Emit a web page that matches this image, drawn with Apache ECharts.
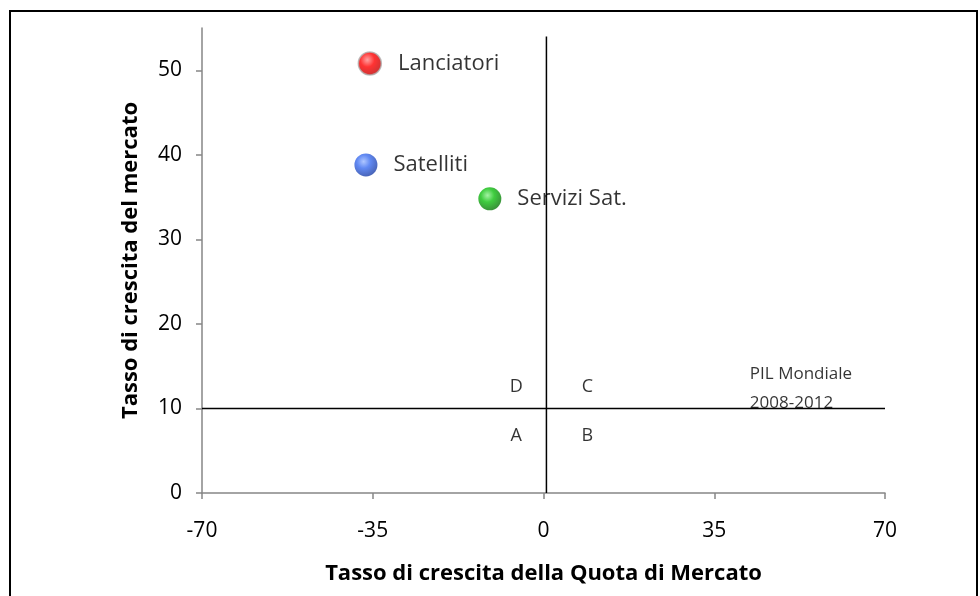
<!DOCTYPE html>
<html>
<head>
<meta charset="utf-8">
<script src="https://cdn.jsdelivr.net/npm/echarts@6/dist/echarts.min.js"></script>
<style>
  html, body { margin: 0; padding: 0; background: #fff; }
  #chart { width: 980px; height: 596px; }
</style>
</head>
<body>
<div id="chart"></div>
<script>
// dati
var segments = ['Lanciatori', 'Satelliti', 'Servizi Sat.']
var shareGrowth = [-35.6, -36.4, -11]
var marketGrowth = [50.8, 38.8, 34.8]
var colors = [
  ['#ff8a8a', '#ff0000', '#c00000'],
  ['#9ab8ff', '#3a6cf0', '#1c3fa8'],
  ['#8cf08c', '#10c010', '#087a08']
]
var quadrants = ['D', 'C', 'A', 'B']
var quadX = [-5.6, 9, -5.6, 9]
var quadY = [12.6, 12.6, 6.7, 6.7]
var xTicks = [-70, -35, 0, 35, 70]
var yTicks = [0, 10, 20, 30, 40, 50]
var pilGrowth = 10
var vLine = [[0.6, 0], [0.6, 54]]
var hLine = [[-70, pilGrowth], [70, pilGrowth]]
var pilLabel = 'PIL Mondiale\n2008-2012'
var pilPos = [42.3, 12.6]

var font = '"Open Sans", sans-serif'

var chart = echarts.init(document.getElementById('chart'))

function ball(c) {
  return new echarts.graphic.RadialGradient(0.4, 0.35, 0.65, [
    { offset: 0, color: c[0] },
    { offset: 0.45, color: c[1] },
    { offset: 1, color: c[2] }
  ])
}

var pointSeries = segments.map(function(name, i) {
  return {
    type: 'scatter',
    name: name,
    symbolSize: 23,
    z: 5,
    data: [[shareGrowth[i], marketGrowth[i]]],
    itemStyle: {
      color: ball(colors[i]),
      borderColor: i === 0 ? '#b0b0b0' : 'transparent',
      borderWidth: i === 0 ? 1.5 : 0
    },
    label: {
      show: true,
      position: 'right',
      distance: 16,
      formatter: name,
      color: '#000',
      fontSize: 22,
      fontFamily: font
    }
  }
})

var option = {
  animation: false,
  backgroundColor: '#fff',
  graphic: [{
    type: 'rect',
    shape: { x: 10, y: 11, width: 967, height: 600 },
    style: { fill: 'none', stroke: '#000', lineWidth: 2 },
    silent: true
  }],
  grid: { left: 202, right: 95, top: 28, bottom: 103 },
  xAxis: {
    type: 'value',
    min: -70, max: 70, interval: 35,
    name: 'Tasso di crescita della Quota di Mercato',
    nameLocation: 'middle',
    nameGap: 70,
    nameTextStyle: { fontSize: 22, fontWeight: 'bold', color: '#000', fontFamily: font },
    axisLine: { onZero: false, lineStyle: { color: '#868686', width: 1.5 } },
    axisTick: { show: true, inside: false, length: 6, lineStyle: { color: '#868686', width: 1.5 } },
    axisLabel: {
      margin: 28, fontSize: 21, color: '#000', fontFamily: font,
      customValues: xTicks
    },
    splitLine: { show: false }
  },
  yAxis: {
    type: 'value',
    min: 0, max: 55,
    name: 'Tasso di crescita del mercato',
    nameLocation: 'middle',
    nameGap: 60,
    nameTextStyle: { fontSize: 22, fontWeight: 'bold', color: '#000', fontFamily: font },
    axisLine: { show: true, onZero: false, lineStyle: { color: '#868686', width: 1.5 } },
    axisTick: { show: true, length: 6, customValues: yTicks, lineStyle: { color: '#868686', width: 1.5 } },
    axisLabel: {
      margin: 20, fontSize: 21, color: '#000', fontFamily: font,
      customValues: yTicks
    },
    splitLine: { show: false }
  },
  series: [
    {
      type: 'line', data: vLine, symbol: 'none', z: 6,
      lineStyle: { color: '#000', width: 1.5 }
    },
    {
      type: 'line', data: hLine, symbol: 'none', z: 3,
      lineStyle: { color: '#000', width: 1.5 }
    },
    {
      type: 'scatter',
      symbolSize: 0,
      data: quadrants.map(function(q, i) { return { value: [quadX[i], quadY[i]], name: q } }),
      label: {
        show: true, position: 'inside', formatter: '{b}',
        color: '#000', fontSize: 18, fontFamily: font
      }
    },
    {
      type: 'scatter',
      symbolSize: 0,
      z: 2,
      data: [{ value: pilPos, name: pilLabel }],
      label: {
        show: true, position: 'inside', align: 'left', formatter: '{b}',
        color: '#000', fontSize: 17, lineHeight: 29, fontFamily: font, offset: [0, 2]
      }
    }
  ].concat(pointSeries)
}

chart.setOption(option)
</script>
</body>
</html>
